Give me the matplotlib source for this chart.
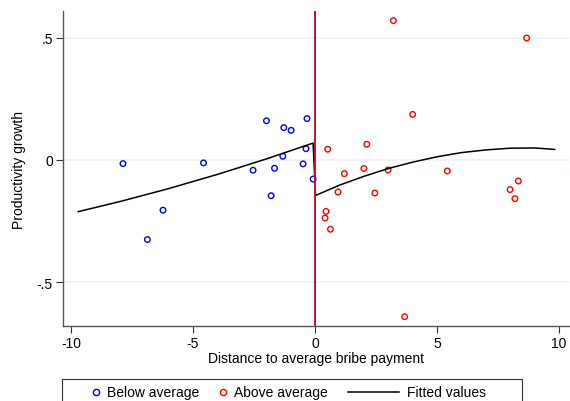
import matplotlib
matplotlib.use("Agg")
import matplotlib.pyplot as plt
from matplotlib.lines import Line2D
from matplotlib.patches import Rectangle

plt.rcParams['font.family'] = ['Liberation Sans', 'DejaVu Sans']
plt.rcParams['font.size'] = 10

# below average bribe payment
below_x = [-7.87, -4.57, -6.23, -6.87, -2.54, -1.99, -1.28, -0.98, -0.33, -0.37,
           -1.32, -1.66, -1.80, -0.49, -0.08]
below_y = [-0.015, -0.012, -0.205, -0.325, -0.042, 0.160, 0.132, 0.121, 0.169, 0.046,
           0.015, -0.034, -0.146, -0.016, -0.078]

# above average bribe payment
above_x = [3.21, 8.67, 4.00, 2.12, 0.52, 1.20, 2.00, 2.99, 5.42, 0.94,
           2.45, 8.33, 7.99, 8.19, 0.45, 0.41, 0.63, 3.67]
above_y = [0.569, 0.498, 0.186, 0.064, 0.044, -0.056, -0.035, -0.041, -0.045, -0.131,
           -0.135, -0.086, -0.121, -0.158, -0.210, -0.237, -0.283, -0.640]

# fitted values, left piece then right piece
fit_x = [-9.7, -8, -6, -4, -2, -0.08, 0.02, 1, 2, 3, 4, 5, 6, 7, 8, 9, 9.82]
fit_y = [-0.211, -0.170, -0.117, -0.059, 0.004, 0.069, -0.145, -0.103, -0.067,
         -0.035, -0.009, 0.013, 0.030, 0.041, 0.048, 0.049, 0.043]

xticks = [-10, -5, 0, 5, 10]
yticks = [-0.5, 0, 0.5]
ytick_labels = ['-.5', '0', '.5']
legend_labels = ['Below average', 'Above average', 'Fitted values']

W, H = 570, 402
fig = plt.figure(figsize=(W / 100, H / 100), dpi=100)
ax = fig.add_axes([0.110, 0.1866, 0.888, 0.7834])

for yv in yticks:
    ax.axhline(yv, color='#eaf2f3', lw=1.2, zorder=0)

ax.scatter(below_x, below_y, s=16, facecolors='none', edgecolors='#0000ff',
           linewidths=1.0, zorder=3)
ax.scatter(above_x, above_y, s=16, facecolors='none', edgecolors='#ff0000',
           linewidths=1.0, zorder=3)
ax.plot(fit_x, fit_y, color='black', lw=1.1, zorder=4)
ax.axvline(0, color='#c8102e', lw=1.4, zorder=5)

ax.set_xlim(-10.34, 10.4)
ax.set_ylim(-0.678, 0.608)
ax.set_xticks(xticks)
ax.set_xticklabels([str(t) for t in xticks])
ax.set_yticks(yticks)
ax.set_yticklabels(ytick_labels)
ax.tick_params(direction='out', length=5, width=0.8, color='#333333', pad=2)
ax.set_xlabel('Distance to average bribe payment', labelpad=1)
ax.set_ylabel('Productivity growth', labelpad=8)

for side in ['top', 'right']:
    ax.spines[side].set_visible(False)
for side in ['left', 'bottom']:
    ax.spines[side].set_color('#555555')
    ax.spines[side].set_linewidth(1.0)

# legend box (cut off at the bottom, as in the original)
fig.add_artist(Rectangle((62 / W, -0.05), 460 / W, 0.05 + (H - 380) / H,
                         transform=fig.transFigure, facecolor='none',
                         edgecolor='#333333', lw=0.8))
ly = (H - 393) / H
fig.add_artist(Line2D([96 / W], [ly], marker='o', ms=4.5, mfc='none', mec='#0000ff',
                      mew=1.0, transform=fig.transFigure))
fig.text(107 / W, ly, legend_labels[0], va='center', ha='left')
fig.add_artist(Line2D([223 / W], [ly], marker='o', ms=4.5, mfc='none', mec='#ff0000',
                      mew=1.0, transform=fig.transFigure))
fig.text(234 / W, ly, legend_labels[1], va='center', ha='left')
fig.add_artist(Line2D([348 / W, 399 / W], [ly, ly], color='black', lw=1.1,
                      transform=fig.transFigure))
fig.text(407 / W, ly, legend_labels[2], va='center', ha='left')

fig.savefig('out.png', dpi=100)
